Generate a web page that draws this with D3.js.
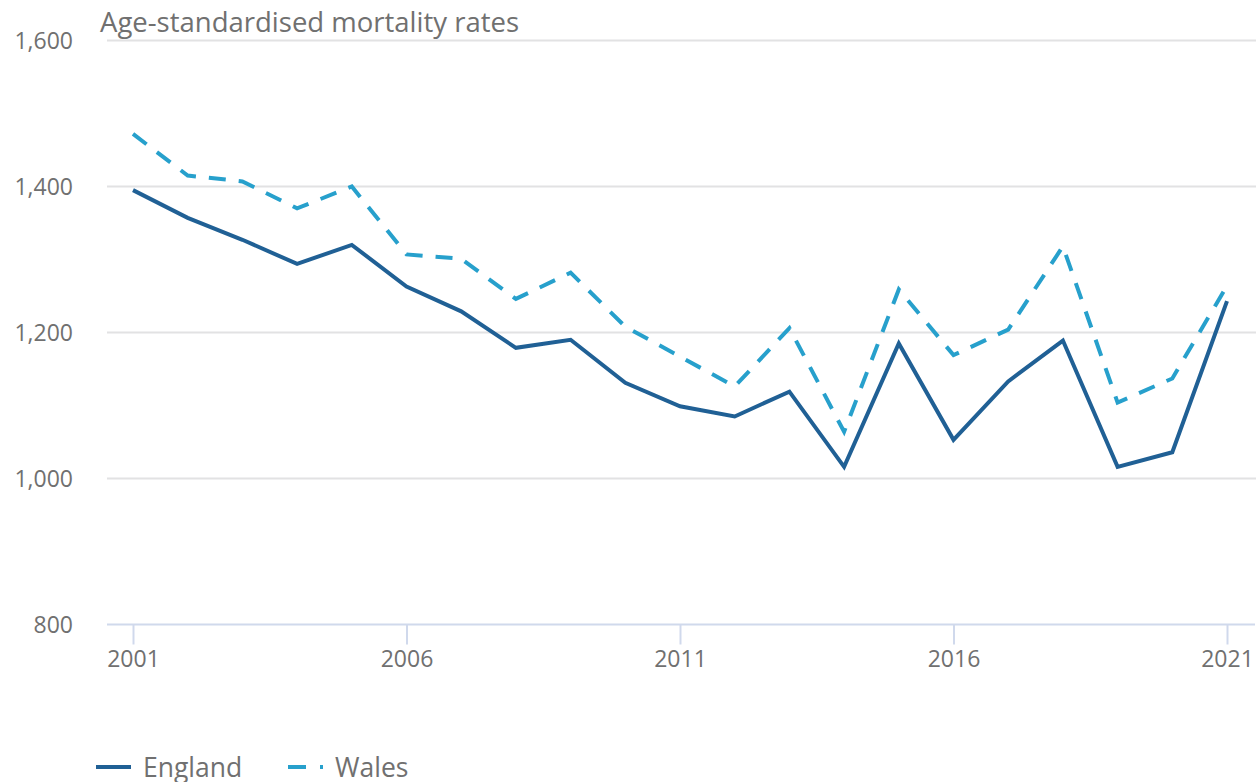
<!DOCTYPE html>
<html lang="en">
<head>
<meta charset="utf-8">
<title>Age-standardised mortality rates</title>
<script src="https://cdn.jsdelivr.net/npm/d3@7"></script>
<style>
  body { margin: 0; background: #fff; }
  text { font-family: "Open Sans", sans-serif; fill: #707070; }
</style>
</head>
<body>
<div id="chart"></div>
<script>
var years = d3.range(2001, 2022);
var england = [1395, 1357, 1327, 1294, 1320, 1263, 1229, 1179, 1190, 1131, 1099,
               1085, 1119, 1016, 1185, 1053, 1133, 1189, 1016, 1036, 1243];
var wales = [1472, 1415, 1407, 1370, 1400, 1307, 1301, 1246, 1282, 1208, 1167,
             1126, 1206, 1064, 1259, 1169, 1204, 1318, 1104, 1137, 1264];
var yTicks = [800, 1000, 1200, 1400, 1600];
var xTicks = [2001, 2006, 2011, 2016, 2021];
var seriesNames = ["England", "Wales"];

var width = 1256;
var height = 782;

var svg = d3.select("#chart")
    .append("svg")
    .attr("width", width)
    .attr("height", height);

var x = d3.scaleLinear().domain([2001, 2021]).range([133, 1227]);
var y = d3.scaleLinear().domain([800, 1600]).range([624.5, 40.5]);

// gridlines
svg.append("g")
    .selectAll("line")
    .data(yTicks.slice(1))
    .join("line")
    .attr("x1", 107).attr("x2", width)
    .attr("y1", d => y(d)).attr("y2", d => y(d))
    .attr("stroke", "#e2e2e3")
    .attr("stroke-width", 2);

// y labels
svg.append("g")
    .selectAll("text")
    .data(yTicks)
    .join("text")
    .attr("x", 73)
    .attr("y", d => y(d) + 8)
    .attr("text-anchor", "end")
    .attr("font-size", 23)
    .text(d => d3.format(",")(d));

// x axis
var xAxis = svg.append("g")
    .attr("transform", "translate(0," + y(800) + ")")
    .call(d3.axisBottom(x).tickValues(xTicks).tickFormat(d3.format("d")).tickSize(20).tickPadding(6));
xAxis.select(".domain")
    .attr("d", "M107,0H" + (width - 1))
    .attr("stroke", "#d0d9ec")
    .attr("stroke-width", 2);
xAxis.selectAll(".tick line").attr("stroke", "#d0d9ec").attr("stroke-width", 2);
xAxis.selectAll(".tick text")
    .attr("font-size", 23)
    .attr("font-family", "Open Sans, sans-serif")
    .attr("fill", "#707070");

// title
svg.append("text")
    .attr("x", 100)
    .attr("y", 32)
    .attr("font-size", 27.5)
    .text("Age-standardised mortality rates");

var line = d3.line()
    .x((d, i) => x(years[i]))
    .y(d => y(d));

svg.append("path")
    .datum(wales)
    .attr("d", line)
    .attr("fill", "none")
    .attr("stroke", "#27a0cc")
    .attr("stroke-width", 4)
    .attr("stroke-dasharray", "17,13");

svg.append("path")
    .datum(england)
    .attr("d", line)
    .attr("fill", "none")
    .attr("stroke", "#206095")
    .attr("stroke-width", 4);

// legend (sits at the bottom edge, as in the original)
var legend = svg.append("g").attr("transform", "translate(0,767)");
var lx = [96, 288];
legend.selectAll("line")
    .data(seriesNames)
    .join("line")
    .attr("x1", (d, i) => lx[i])
    .attr("x2", (d, i) => lx[i] + 35)
    .attr("stroke", (d, i) => i == 0 ? "#206095" : "#27a0cc")
    .attr("stroke-width", 4)
    .attr("stroke-dasharray", (d, i) => i == 0 ? null : "18,14");
legend.selectAll("text")
    .data(seriesNames)
    .join("text")
    .attr("x", (d, i) => lx[i] + 47)
    .attr("y", 10)
    .attr("font-size", 26.5)
    .text(d => d);
</script>
</body>
</html>
